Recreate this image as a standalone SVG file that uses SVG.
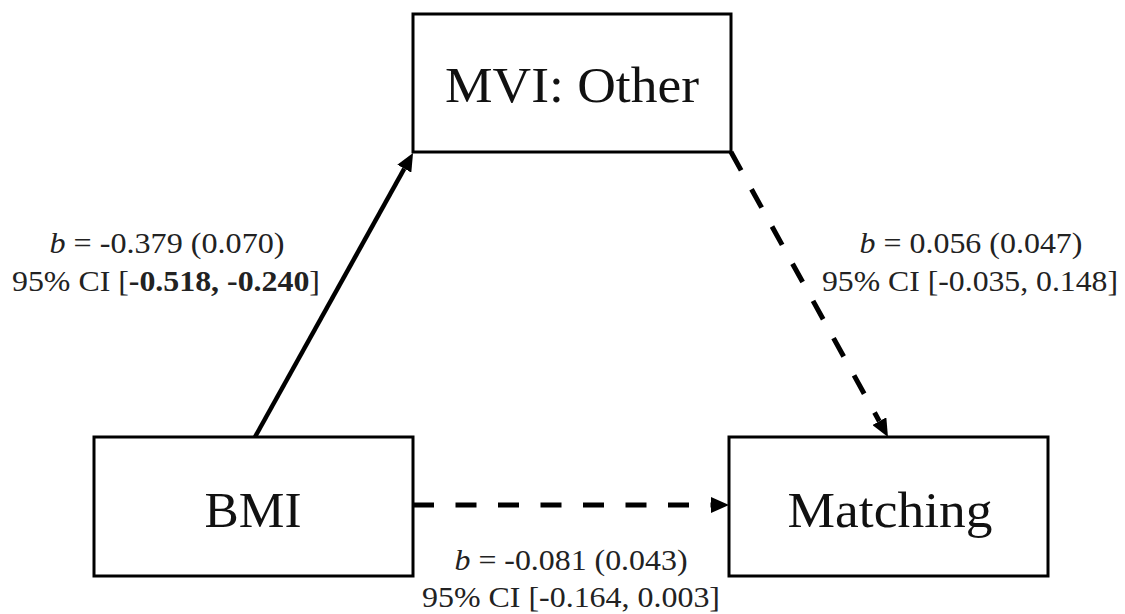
<svg xmlns="http://www.w3.org/2000/svg" width="1125" height="614" viewBox="0 0 1125 614">
  <style>
    .box { fill: #ffffff; stroke: #000000; stroke-width: 3; }
    .name { font-family: "Liberation Serif", "Times New Roman", serif; font-size: 50px; fill: #111111; text-anchor: middle; }
    .coef { font-family: "Liberation Serif", "Times New Roman", serif; font-size: 30px; fill: #222222; text-anchor: middle; }
    .edge { fill: none; stroke: #000000; stroke-width: 4.5; }
    .dash { stroke-dasharray: 21 21.5; stroke-width: 5; }
  </style>
  <defs>
    <marker id="head" markerUnits="userSpaceOnUse" markerWidth="18" markerHeight="16" viewBox="0 -8 18 16" refX="0" refY="0" orient="auto">
      <path d="M0,-8 L18,0 L0,8 Z" fill="#000000"/>
    </marker>
  </defs>
  <rect width="1125" height="614" fill="#ffffff"/>

  <g id="connectors">
    <!-- BMI -> MVI: Other (significant path, solid) -->
    <path class="edge" d="M255,437 L404.3,168.7" marker-end="url(#head)"/>
    <!-- MVI: Other -> Matching (dashed) -->
    <path class="edge dash" d="M731,152 L879.3,421.2" marker-end="url(#head)"/>
    <!-- BMI -> Matching direct effect (dashed) -->
    <path class="edge dash" d="M413,505 L711,505" marker-end="url(#head)"/>
  </g>

  <g id="node-mvi">
    <rect class="box" x="413" y="14" width="318" height="138"/>
    <text class="name" x="572" y="102" textLength="254" lengthAdjust="spacingAndGlyphs">MVI: Other</text>
  </g>

  <g id="node-bmi">
    <rect class="box" x="94" y="437" width="319" height="139"/>
    <text class="name" x="253" y="527" textLength="97" lengthAdjust="spacingAndGlyphs">BMI</text>
  </g>

  <g id="node-matching">
    <rect class="box" x="729" y="437" width="319" height="139"/>
    <text class="name" x="890" y="527" textLength="205" lengthAdjust="spacingAndGlyphs">Matching</text>
  </g>

  <g id="label-a">
    <text class="coef" x="167" y="253" textLength="235" lengthAdjust="spacingAndGlyphs"><tspan font-style="italic">b</tspan> = -0.379 (0.070)</text>
    <text class="coef" x="166" y="291" textLength="308" lengthAdjust="spacingAndGlyphs">95% CI [<tspan font-weight="bold">-0.518, -0.240</tspan>]</text>
  </g>

  <g id="label-b">
    <text class="coef" x="971" y="253" textLength="223" lengthAdjust="spacingAndGlyphs"><tspan font-style="italic">b</tspan> = 0.056 (0.047)</text>
    <text class="coef" x="970" y="291" textLength="296" lengthAdjust="spacingAndGlyphs">95% CI [-0.035, 0.148]</text>
  </g>

  <g id="label-c">
    <text class="coef" x="571" y="570" textLength="233" lengthAdjust="spacingAndGlyphs"><tspan font-style="italic">b</tspan> = -0.081 (0.043)</text>
    <text class="coef" x="571" y="607" textLength="298" lengthAdjust="spacingAndGlyphs">95% CI [-0.164, 0.003]</text>
  </g>
</svg>
